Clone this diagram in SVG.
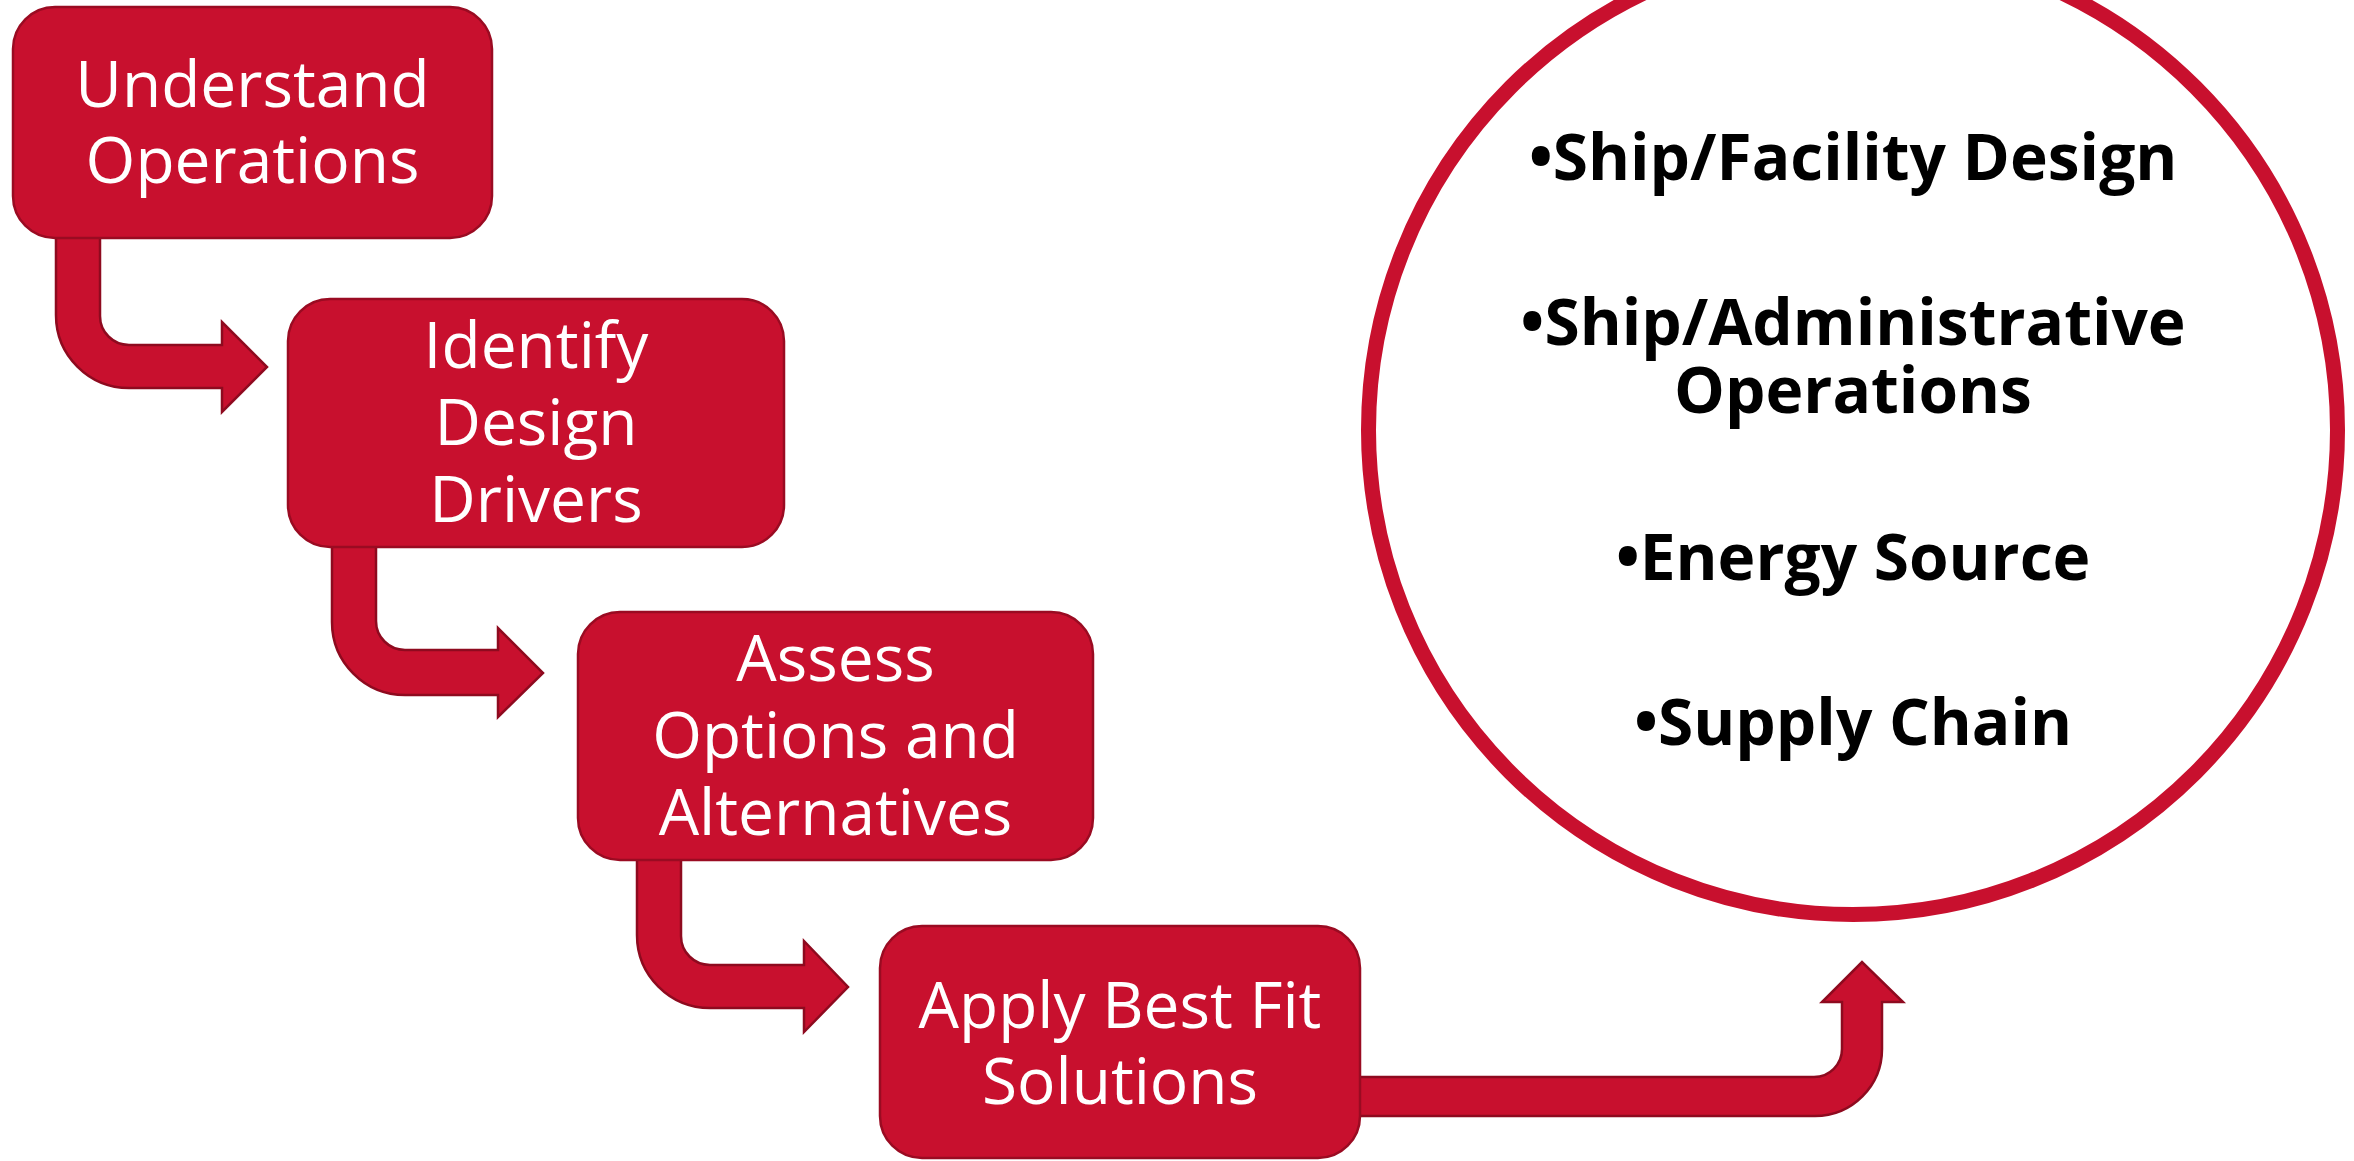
<svg xmlns="http://www.w3.org/2000/svg" width="2354" height="1161" viewBox="0 0 2354 1161">
<style>
.box{fill:#C8102E;stroke:#9A0B22;stroke-width:2.5}
.arr{fill:#C8102E;stroke:#8E0A1F;stroke-width:2.5;stroke-linejoin:miter}
.lbl{font-family:"Open Sans","Liberation Sans",sans-serif;font-size:64px;fill:#FFFFFF;text-anchor:middle}
.item{font-family:"Open Sans","Liberation Sans",sans-serif;font-size:64px;font-weight:700;fill:#000000;text-anchor:middle}
</style>
<rect width="2354" height="1161" fill="#FFFFFF"/>
<g id="connectors">
<path class="arr" d="M 56 230 L 100 230 L 100 316 A 29 29 0 0 0 129 345 L 222 345 L 222 322 L 267 367 L 222 412 L 222 388 L 129 388 A 73 73 0 0 1 56 315 Z"/>
<path class="arr" d="M 332 540 L 376 540 L 376 621 A 29 29 0 0 0 405 650 L 498 650 L 498 628 L 543 673 L 498 717 L 498 695 L 405 695 A 73 73 0 0 1 332 622 Z"/>
<path class="arr" d="M 637 853 L 681 853 L 681 936 A 29 29 0 0 0 710 965 L 804 965 L 804 941 L 848 987 L 804 1032 L 804 1008 L 710 1008 A 73 73 0 0 1 637 935 Z"/>
<path class="arr" d="M 1352 1077 L 1814 1077 A 28 28 0 0 0 1842 1049 L 1842 1002 L 1822 1002 L 1862 962 L 1903 1002 L 1882 1002 L 1882 1049 A 67 67 0 0 1 1815 1116 L 1352 1116 Z"/>
</g>
<g id="node-understand">
<rect class="box" x="13" y="7" width="479" height="231" rx="42"/>
<text class="lbl" x="252.5" y="107">Understand</text>
<text class="lbl" x="252.5" y="183">Operations</text>
</g>
<g id="node-identify">
<rect class="box" x="288" y="299" width="496" height="248" rx="42"/>
<text class="lbl" x="536" y="368">Identify</text>
<text class="lbl" x="536" y="445">Design</text>
<text class="lbl" x="536" y="522">Drivers</text>
</g>
<g id="node-assess">
<rect class="box" x="578" y="612" width="515" height="248" rx="42"/>
<text class="lbl" x="835.5" y="681">Assess</text>
<text class="lbl" x="835.5" y="758">Options and</text>
<text class="lbl" x="835.5" y="835">Alternatives</text>
</g>
<g id="node-apply">
<rect class="box" x="880" y="926" width="480" height="232" rx="42"/>
<text class="lbl" x="1120" y="1028">Apply Best Fit</text>
<text class="lbl" x="1120" y="1104">Solutions</text>
</g>
<g id="node-areas">
<circle cx="1853" cy="430" r="484.5" fill="none" stroke="#C8102E" stroke-width="15"/>
<text class="item" x="1853" y="180">•Ship/Facility Design</text>
<text class="item" x="1853" y="345">•Ship/Administrative</text>
<text class="item" x="1853" y="413">Operations</text>
<text class="item" x="1853" y="580">•Energy Source</text>
<text class="item" x="1853" y="745">•Supply Chain</text>
</g>
</svg>
